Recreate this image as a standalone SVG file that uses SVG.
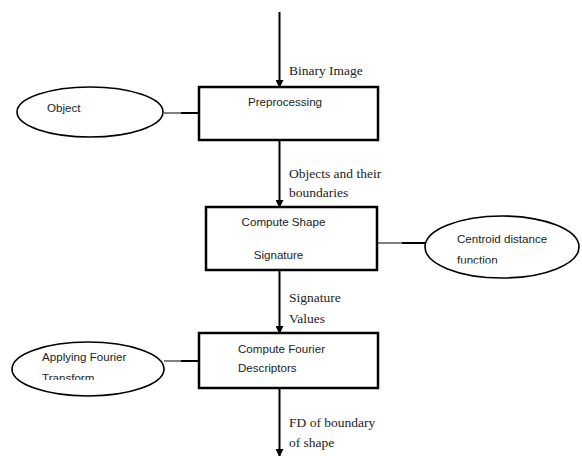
<svg xmlns="http://www.w3.org/2000/svg" width="582" height="456" viewBox="0 0 582 456">
<style>
.box{fill:#fff;stroke:#000;stroke-width:2.5}
.ell{fill:#fff;stroke:#000;stroke-width:1.6}
.flow{stroke:#000;stroke-width:2;fill:none}
.thin{stroke:#000;stroke-width:1;fill:none}
.thick{stroke:#000;stroke-width:2;fill:none}
.nt{font-family:"Liberation Sans",Arial,sans-serif;font-size:11.6px;fill:#222}
.lb{font-family:"Liberation Serif","Times New Roman",serif;font-size:13.5px;fill:#222}
</style>
<defs>
<marker id="ah" markerWidth="8" markerHeight="8" refX="7" refY="4" orient="auto" markerUnits="userSpaceOnUse">
<path d="M0,0 L8,4 L0,8 Z" fill="#000"/>
</marker>
<clipPath id="c1"><rect x="420" y="200" width="162" height="63.5"/></clipPath>
<clipPath id="c2"><rect x="0" y="330" width="200" height="50"/></clipPath>
</defs>
<g id="connectors">
<line class="flow" x1="279.5" y1="12" x2="279.5" y2="87" marker-end="url(#ah)"/>
<line class="flow" x1="279.5" y1="140" x2="279.5" y2="207" marker-end="url(#ah)"/>
<line class="flow" x1="279.5" y1="270" x2="279.5" y2="333" marker-end="url(#ah)"/>
<line class="flow" x1="279.5" y1="388" x2="279.5" y2="456" marker-end="url(#ah)"/>
<line class="thin" x1="164" y1="113" x2="181" y2="113"/>
<line class="thick" x1="181" y1="113" x2="199" y2="113"/>
<line class="thin" x1="377" y1="243" x2="402" y2="243"/>
<line class="thick" x1="402" y1="243" x2="425" y2="243"/>
<line class="thin" x1="164" y1="361" x2="181" y2="361"/>
<line class="thick" x1="181" y1="361" x2="199" y2="361"/>
<text class="lb" x="289" y="75">Binary Image</text>
<text class="lb" x="289" y="178">Objects and their</text>
<text class="lb" x="289" y="197">boundaries</text>
<text class="lb" x="289" y="302">Signature</text>
<text class="lb" x="289" y="323">Values</text>
<text class="lb" x="289" y="427">FD of boundary</text>
<text class="lb" x="289" y="447">of shape</text>
</g>
<g id="preprocessing">
<rect class="box" x="199" y="87" width="179" height="53"/>
<text class="nt" x="285" y="106" text-anchor="middle">Preprocessing</text>
</g>
<g id="object">
<ellipse class="ell" cx="90" cy="112" rx="73" ry="25"/>
<text class="nt" x="47" y="112">Object</text>
</g>
<g id="compute-shape">
<rect class="box" x="206" y="207" width="171" height="63"/>
<text class="nt" x="283.5" y="226" text-anchor="middle">Compute Shape</text>
<text class="nt" x="278.5" y="259" text-anchor="middle">Signature</text>
</g>
<g id="centroid">
<ellipse class="ell" cx="502" cy="247" rx="77" ry="31"/>
<text class="nt" x="457" y="243">Centroid distance</text>
<text class="nt" x="457" y="264" clip-path="url(#c1)">function</text>
</g>
<g id="fourier">
<rect class="box" x="199" y="333" width="179" height="55"/>
<text class="nt" x="238" y="353">Compute Fourier</text>
<text class="nt" x="238" y="372">Descriptors</text>
</g>
<g id="applying">
<ellipse class="ell" cx="88" cy="369" rx="76" ry="27"/>
<text class="nt" x="42" y="361">Applying Fourier</text>
<text class="nt" x="42" y="382" clip-path="url(#c2)">Transform</text>
</g>
</svg>
